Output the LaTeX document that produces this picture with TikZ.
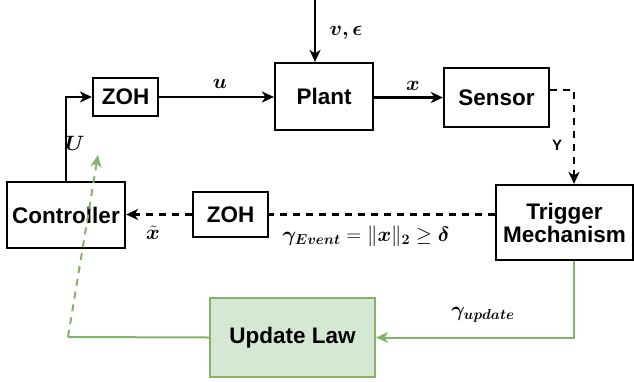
\documentclass[tikz,border=0pt]{standalone}
\usepackage{fontspec}
\setmainfont{Liberation Sans}
\usepackage{amsmath,amssymb,bm}
\usetikzlibrary{arrows.meta,calc}
\definecolor{gline}{HTML}{82B366}
\definecolor{gfill}{HTML}{D5E8D4}
\tikzset{
  blk/.style={draw, line width=2.2pt, minimum width=#1, inner sep=0pt, align=center,
    font=\fontsize{22.5}{25}\selectfont\bfseries},
  conn/.style={line width=2.2pt, -{Stealth[length=12pt,width=11pt,inset=3.5pt]}},
  plain/.style={line width=2.2pt},
  dsh/.style={dash pattern=on 7pt off 6pt},
  glab/.style={font=\fontsize{21}{23}\selectfont, inner sep=0pt},
  greenl/.style={draw=gline, line width=2pt},
}
\begin{document}
\begin{tikzpicture}[x=1pt,y=-1pt]
\useasboundingbox (0,0) rectangle (634,381);
\node[blk=65pt, minimum height=38pt] (zoh1) at (125.5,97) {ZOH};
\node[blk=98pt, minimum height=67pt] (plant) at (324,96.5) {Plant};
\node[blk=105pt, minimum height=59pt] (sensor) at (496.5,97.5) {Sensor};
\node[blk=137pt, minimum height=75pt] (trig) at (564.5,222.5) {Trigger\\[-2pt]Mechanism};
\node[blk=118pt, minimum height=66pt] (ctrl) at (66,215) {Controller};
\node[blk=75pt, minimum height=45pt] (zoh2) at (230.5,214.5) {ZOH};
\node[blk=165pt, minimum height=79pt, draw=gline, fill=gfill] (upd) at (292.5,337.5) {Update Law};
\coordinate (vtop) at (315,0);
\coordinate (gcorner) at (68,337);
\coordinate (gtip) at (98,155);

\draw[conn] (ctrl.north) |- (zoh1.west);
\draw[conn] (zoh1.east) -- (zoh1.east -| plant.west);
\draw[conn] (vtop) -- (vtop |- plant.north);
\draw[conn] (plant.east |- sensor.west) -- (sensor.west);
\draw[conn,dsh] ([yshift=7.5pt]sensor.east) -| ([xshift=9.5pt]trig.north);
\draw[plain,dsh] (trig.west |- zoh2.east) -- (zoh2.east);
\draw[conn,dsh] (zoh2.west) -- (zoh2.west -| ctrl.east);
\draw[conn,draw=gline,line width=2pt] ([xshift=9.5pt]trig.south) |- (upd.east);
\draw[greenl] (upd.west) -- (gcorner);
\draw[greenl,dsh,-{Stealth[length=12pt,width=11pt,inset=3.5pt]}] (gcorner) -- (gtip);

\node[glab] (lU) at (75,143) {$\boldsymbol{U}$};
\node[glab] (lu) at (220,84) {$\boldsymbol{u}$};
\node[glab] (lv) at (346,33) {$\boldsymbol{v,\epsilon}$};
\node[glab] (lx) at (413,86) {$\boldsymbol{x}$};
\node[font=\fontsize{15}{17}\selectfont\bfseries, inner sep=0pt] (lY) at (557,145) {Y};
\node[glab] (lxt) at (153,233) {$\boldsymbol{\tilde{x}}$};
\node[glab] (lev) at (366,236) {$\boldsymbol{\gamma_{Event}} = \|\boldsymbol{x}\|_{\boldsymbol{2}} \geq \boldsymbol{\delta}$};
\node[glab] (lup) at (483,315) {$\boldsymbol{\gamma_{update}}$};
\end{tikzpicture}
\end{document}
